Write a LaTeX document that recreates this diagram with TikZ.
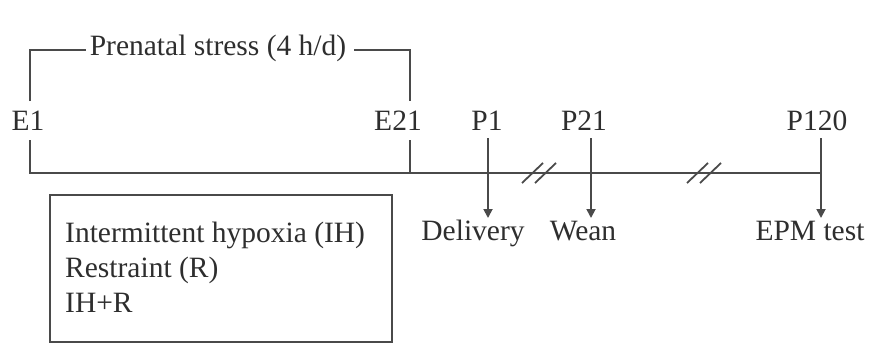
\documentclass[tikz,border=0pt]{standalone}
\usepackage{fontspec}
\setmainfont{Liberation Serif}
\usetikzlibrary{arrows.meta}
\definecolor{ln}{HTML}{4A4A4A}
\definecolor{tx}{HTML}{2E2E2E}
\begin{document}
\begin{tikzpicture}[x=1pt,y=-1pt,
  lbl/.style={inner sep=0pt,text=tx,anchor=base,font=\fontsize{29.5}{36}\selectfont},
  axis/.style={draw=ln,line width=1.8pt},
  arr/.style={draw=ln,line width=1.8pt,-{Triangle[width=9pt,length=9pt]}},
  brk/.style={draw=ln,line width=1.8pt}]
\useasboundingbox (0,0) rectangle (872,346);
% labels
\node[lbl] (e1) at (28,130) {E1};
\node[lbl] (e21) at (398,130) {E21};
\node[lbl] (prenatal) at (218,55) {Prenatal stress (4 h/d)};
\node[lbl] (p1) at (487,130) {P1};
\node[lbl] (p21) at (584,130) {P21};
\node[lbl] (p120) at (817,130) {P120};
\node[lbl] (delivery) at (473,240) {Delivery};
\node[lbl] (wean) at (583,240) {Wean};
\node[lbl] (epm) at (810,240) {EPM test};
% coordinates
\coordinate (a0) at (30,173);
\coordinate (a1) at (820,173);
\coordinate (b21) at (410,173);
% bracket
\draw[axis] (30,101) -- (30,50) -- ([xshift=-4pt]prenatal.west |- 0,50);
\draw[axis] ([xshift=8pt]prenatal.east |- 0,50) -- (410,50) -- (410,101);
\draw[axis] (30,140) -- (a0) -- (a1);
\draw[axis] (410,140) -- (b21);
% arrows
\draw[arr] (488,138) -- (488,218);
\draw[arr] (591,138) -- (591,218);
\draw[arr] (821,138) -- (821,218);
% breaks
\foreach \c in {522,687}{
  \draw[brk] (\c,183) -- (\c+21,163);
  \draw[brk] (\c+13,183) -- (\c+34,163);
}
% box
\node[draw=ln,line width=1.8pt,minimum width=342pt,minimum height=147pt,inner sep=0pt] (box) at (221,268.5) {};
\node[lbl,anchor=base west] (t1) at (65,242) {Intermittent hypoxia (IH)};
\node[lbl,anchor=base west] (t2) at (65,277) {Restraint (R)};
\node[lbl,anchor=base west] (t3) at (65,312) {IH+R};
\end{tikzpicture}
\end{document}
